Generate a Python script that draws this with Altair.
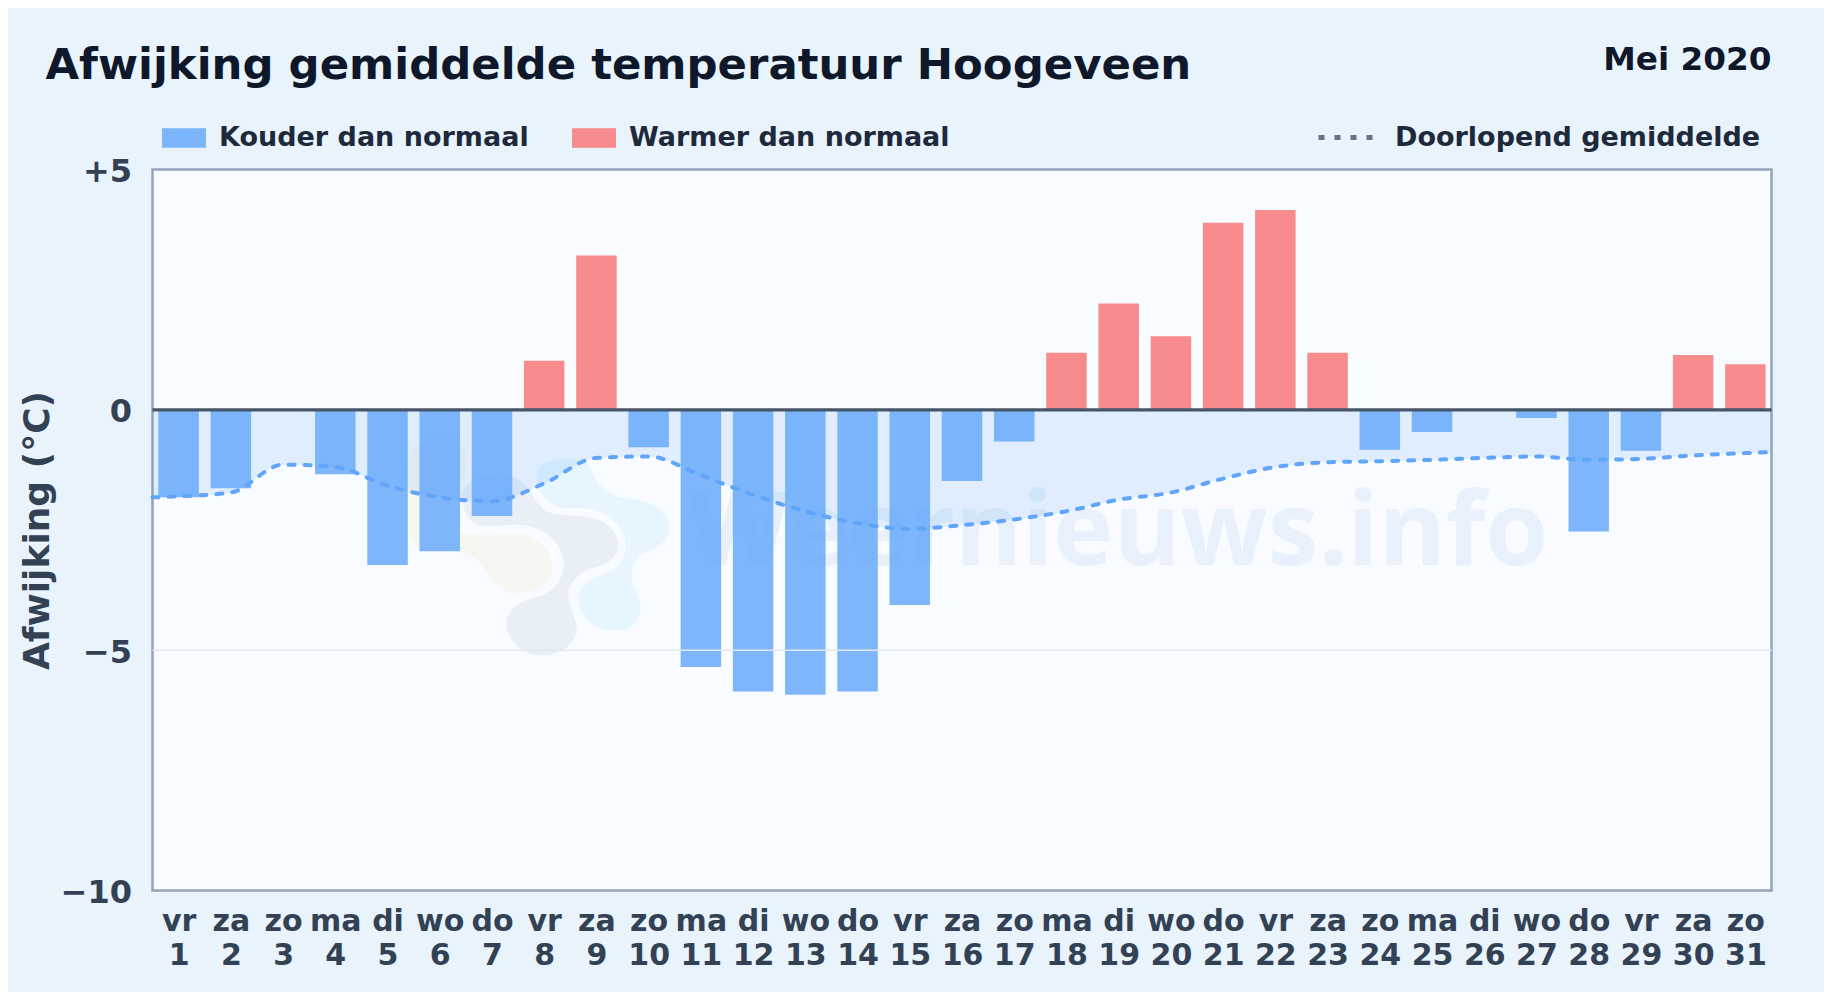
import json
import altair as alt
import pandas as pd

days = list(range(1, 32))
weekdays = ["vr", "za", "zo", "ma", "di", "wo", "do"]
values = [-1.82, -1.63, 0.0, -1.34, -3.23, -2.94, -2.21, 1.02, 3.21, -0.78,
          -5.35, -5.86, -5.93, -5.86, -4.06, -1.48, -0.66, 1.19, 2.21, 1.53,
          3.89, 4.16, 1.19, -0.83, -0.46, 0.0, -0.17, -2.53, -0.85, 1.14, 0.95]
mean_x = [0.5] + days + [31.5]
mean_values = [-1.82, -1.80, -1.72, -1.14, -1.19, -1.58, -1.82, -1.90, -1.53, -1.00, -0.97,
               -1.36, -1.77, -2.11, -2.36, -2.48, -2.40, -2.28, -2.11, -1.87, -1.72,
               -1.43, -1.19, -1.09, -1.07, -1.04, -1.00, -0.97, -1.04, -1.02, -0.95,
               -0.90, -0.88]
y_ticks = [5, 0, -5, -10]
COLD, WARM, MEAN = "Kouder dan normaal", "Warmer dan normaal", "Doorlopend gemiddelde"
TITLE = "Afwijking gemiddelde temperatuur Hoogeveen"
PERIOD = "Mei 2020"
Y_TITLE = "Afwijking (°C)"
WATERMARK = "Weernieuws.info"

FONT = "DejaVu Sans"
W, H = 1619, 721

bars_df = pd.DataFrame({"day": days, "value": values,
                        "kind": [WARM if v > 0 else COLD for v in values],
                        "zero": [0] * len(days)})
mean_df = pd.DataFrame({"x": mean_x, "mean": mean_values, "zero": [0] * len(mean_x), "series": [MEAN] * len(mean_x)})

x_scale = alt.Scale(domain=[0.5, 31.5], nice=False, zero=False, padding=0)
y_scale = alt.Scale(domain=[-10, 5], nice=False, padding=0)
wd_json = json.dumps(weekdays)

x_axis = alt.Axis(values=days, title=None, grid=False, domain=False, ticks=False,
                  labelExpr=f"[{wd_json}[(datum.value-1)%7], datum.label]",
                  labelFont=FONT, labelFontSize=30, labelFontWeight="bold", labelColor="#334155",
                  labelAngle=0, labelPadding=16, labelLineHeight=34, labelOverlap=False,
                  labelBound=False, labelFlush=False)
y_axis = alt.Axis(values=y_ticks, title=Y_TITLE, grid=False, domain=False, ticks=False,
                  labelExpr="datum.value > 0 ? '+' + datum.value : datum.value < 0 ? '\u2212' + abs(datum.value) : '0'",
                  labelFont=FONT, labelFontSize=32, labelFontWeight="bold", labelColor="#334155",
                  labelPadding=21, labelOffset=2, labelOverlap=False, labelBound=False, labelFlush=False,
                  titleFont=FONT, titleFontSize=36, titleFontWeight="bold", titleColor="#334155",
                  titleX=-96)

LOGO_GREY = ("M305,190C320,140 420,115 480,150C510,170 520,215 560,245C620,265 700,245 750,290"
             "C790,330 780,390 720,408C680,415 640,440 625,480C620,520 650,560 650,600"
             "C640,660 580,680 530,675C470,665 435,620 440,570C450,530 480,515 520,505"
             "C570,490 610,460 612,400C605,340 560,295 490,285C440,280 400,295 350,285"
             "C320,270 305,230 305,190Z")
LOGO_YELLOW = ("M300,305C350,320 420,315 470,310C530,315 575,360 580,410C575,460 530,490 470,490"
               "C420,485 390,450 370,410C340,360 240,360 180,355C130,330 120,190 140,100"
               "C160,0 300,-20 320,70C330,130 295,170 300,230C302,270 290,295 300,305Z")
LOGO_BLUE = ("M530,130C540,90 620,70 680,100C700,130 720,190 790,205C850,205 920,230 930,290"
             "C930,340 880,355 840,375C810,400 810,440 825,480C850,530 850,580 790,600"
             "C720,610 650,570 655,500C660,460 700,440 740,430C790,410 810,360 790,310"
             "C760,250 700,230 640,235C590,245 520,200 530,130Z")


def logo(path, color, opacity):
    return alt.Chart(pd.DataFrame({"a": [0]})).mark_point(
        shape=path, filled=True, size=0.4444, color=color, opacity=opacity, strokeWidth=0
    ).encode(x=alt.value(207.5), y=alt.value(260.5))


wm_text = alt.Chart(pd.DataFrame({"t": [WATERMARK]})).mark_text(
    font="Open Sans", fontSize=102, fontWeight="bold", color="#64a0dc", opacity=0.1,
    align="left", baseline="alphabetic"
).encode(text="t:N", x=alt.value(537), y=alt.value(395.5))

area = alt.Chart(mean_df).mark_area(color="#60a5fa", opacity=0.16, interpolate="monotone").encode(
    x=alt.X("x:Q", scale=x_scale, axis=x_axis),
    y=alt.Y("mean:Q", scale=y_scale, axis=y_axis),
    y2="zero:Q",
)

bars = alt.Chart(bars_df).mark_bar(size=40.5, opacity=0.8, cornerRadius=0).encode(
    x=alt.X("day:Q", scale=x_scale, axis=x_axis),
    y=alt.Y("value:Q", scale=y_scale, axis=y_axis),
    y2="zero:Q",
    color=alt.Color("kind:N",
                    scale=alt.Scale(domain=[COLD, WARM], range=["#60a5fa", "#f87171"]),
                    legend=alt.Legend(orient="none", legendX=9.5, legendY=-53.5, direction="horizontal",
                                      title=None, symbolType="M-1,-0.44H1V0.44H-1Z", symbolSize=1936,
                                      symbolStrokeWidth=0, labelFont=FONT, labelFontSize=27,
                                      labelFontWeight="bold", labelColor="#1e293b", labelOffset=13,
                                      labelLimit=600, columnPadding=43)),
)

grid_rule = alt.Chart(pd.DataFrame({"y": [-5]})).mark_rule(color="#e2e8f0", strokeWidth=1.5).encode(
    y=alt.Y("y:Q", scale=y_scale, axis=y_axis))
zero_rule = alt.Chart(pd.DataFrame({"y": [0]})).mark_rule(color="#475569", strokeWidth=3.2).encode(
    y=alt.Y("y:Q", scale=y_scale, axis=y_axis))

line = alt.Chart(mean_df).mark_line(color="#60a5fa", strokeWidth=4, strokeDash=[6, 10], strokeCap="round",
                                    interpolate="monotone").encode(
    x=alt.X("x:Q", scale=x_scale, axis=x_axis),
    y=alt.Y("mean:Q", scale=y_scale, axis=y_axis),
    opacity=alt.Opacity("series:N", scale=alt.Scale(domain=[MEAN], range=[0.95]),
                        legend=alt.Legend(orient="none", legendX=1163.5, legendY=-62.5, title=None,
                                          symbolType="stroke", symbolSize=3136, symbolStrokeColor="#64748b",
                                          symbolDash=[6, 10], symbolStrokeWidth=5,
                                          labelFont=FONT, labelFontSize=27, labelFontWeight="bold",
                                          labelColor="#1e293b", labelOffset=18, labelLimit=600)),
)

period = alt.Chart(pd.DataFrame({"t": [PERIOD]})).mark_text(
    font=FONT, fontSize=32.7, fontWeight="bold", color="#0f172a", align="right", baseline="alphabetic"
).encode(text="t:N", x=alt.value(W), y=alt.value(-99.5))

chart = alt.layer(
    logo(LOGO_YELLOW, "#eab308", 0.05), logo(LOGO_GREY, "#5a7ea8", 0.09), logo(LOGO_BLUE, "#38bdf8", 0.09),
    wm_text, area, bars, grid_rule, zero_rule, line, period
).properties(
    width=W, height=H,
    background="#e8f3fc",
    padding={"left": 144.5, "top": 161.5, "right": 52.5, "bottom": 101.5},
    autosize=alt.AutoSizeParams(type="none"),
    title=alt.TitleParams(TITLE, anchor="start", frame="group", dx=-107, offset=0, dy=78,
                          font=FONT, fontSize=43.4, fontWeight="bold", color="#0f172a", baseline="alphabetic"),
).configure_view(fill="#f8fbff", stroke="#94a3b8", strokeWidth=2.5)

chart.save("out.html", embed_options={"renderer": "svg", "actions": False})
